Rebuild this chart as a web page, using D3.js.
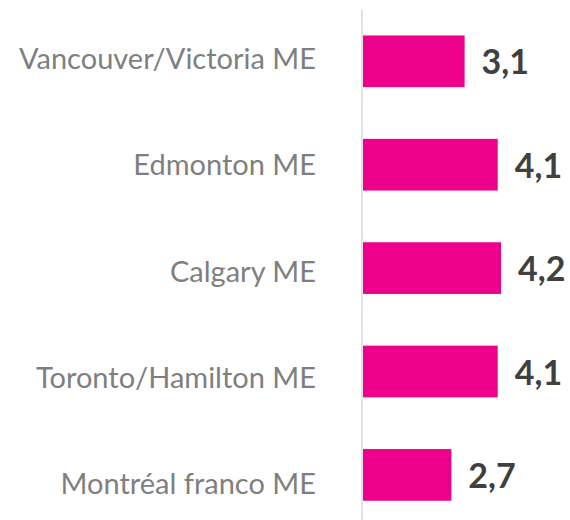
<!DOCTYPE html>
<html>
<head>
<meta charset="utf-8">
<script src="https://cdn.jsdelivr.net/npm/d3@7"></script>
<style>
  body { margin: 0; background: #fff; }
</style>
</head>
<body>
<div id="chart"></div>
<script>
// data
var regions = ["Vancouver/Victoria ME", "Edmonton ME", "Calgary ME", "Toronto/Hamilton ME", "Montréal franco ME"];
var values = [3.1, 4.1, 4.2, 4.1, 2.7];

var svgWidth = 570;
var svgHeight = 520;
var axisX = 362;

var svg = d3.select("#chart")
  .append("svg")
  .attr("width", svgWidth)
  .attr("height", svgHeight);

// scales
var x = d3.scaleLinear().domain([0, 1]).range([axisX, axisX + 33.1]);
var y = d3.scaleBand().domain(regions).range([9.6, 526.6])
  .paddingInner(0.5).paddingOuter(0.25);
// category labels sit on their own rows
var yLabel = d3.scalePoint().domain(regions).range([69, 494]);

// bars
svg.selectAll("rect.bar")
  .data(regions)
  .enter()
  .append("rect")
  .attr("class", "bar")
  .attr("x", x(0) + 1)
  .attr("y", d => y(d))
  .attr("width", (d, i) => x(values[i]) - x(0) - 1)
  .attr("height", y.bandwidth())
  .attr("fill", "#EC008C");

// vertical axis line
svg.append("line")
  .attr("x1", axisX).attr("x2", axisX)
  .attr("y1", 9.6).attr("y2", svgHeight)
  .attr("stroke", "#d9d9d9")
  .attr("stroke-width", 1.5);

// category labels
svg.selectAll("text.cat")
  .data(regions)
  .enter()
  .append("text")
  .attr("class", "cat")
  .attr("x", 316)
  .attr("y", d => yLabel(d))
  .attr("text-anchor", "end")
  .style("font-family", "Lato, sans-serif")
  .style("font-size", "29px")
  .style("fill", "#7f7f7f")
  .text(d => d);

// value labels
svg.selectAll("text.val")
  .data(regions)
  .enter()
  .append("text")
  .attr("class", "val")
  .attr("x", (d, i) => x(values[i]) + 17)
  .attr("y", d => y(d) + y.bandwidth() / 2 + 13)
  .style("font-family", "Lato, sans-serif")
  .style("font-weight", "bold")
  .style("font-size", "34px")
  .style("fill", "#404040")
  .text((d, i) => d3.format(".1f")(values[i]).replace(".", ","));
</script>
</body>
</html>
